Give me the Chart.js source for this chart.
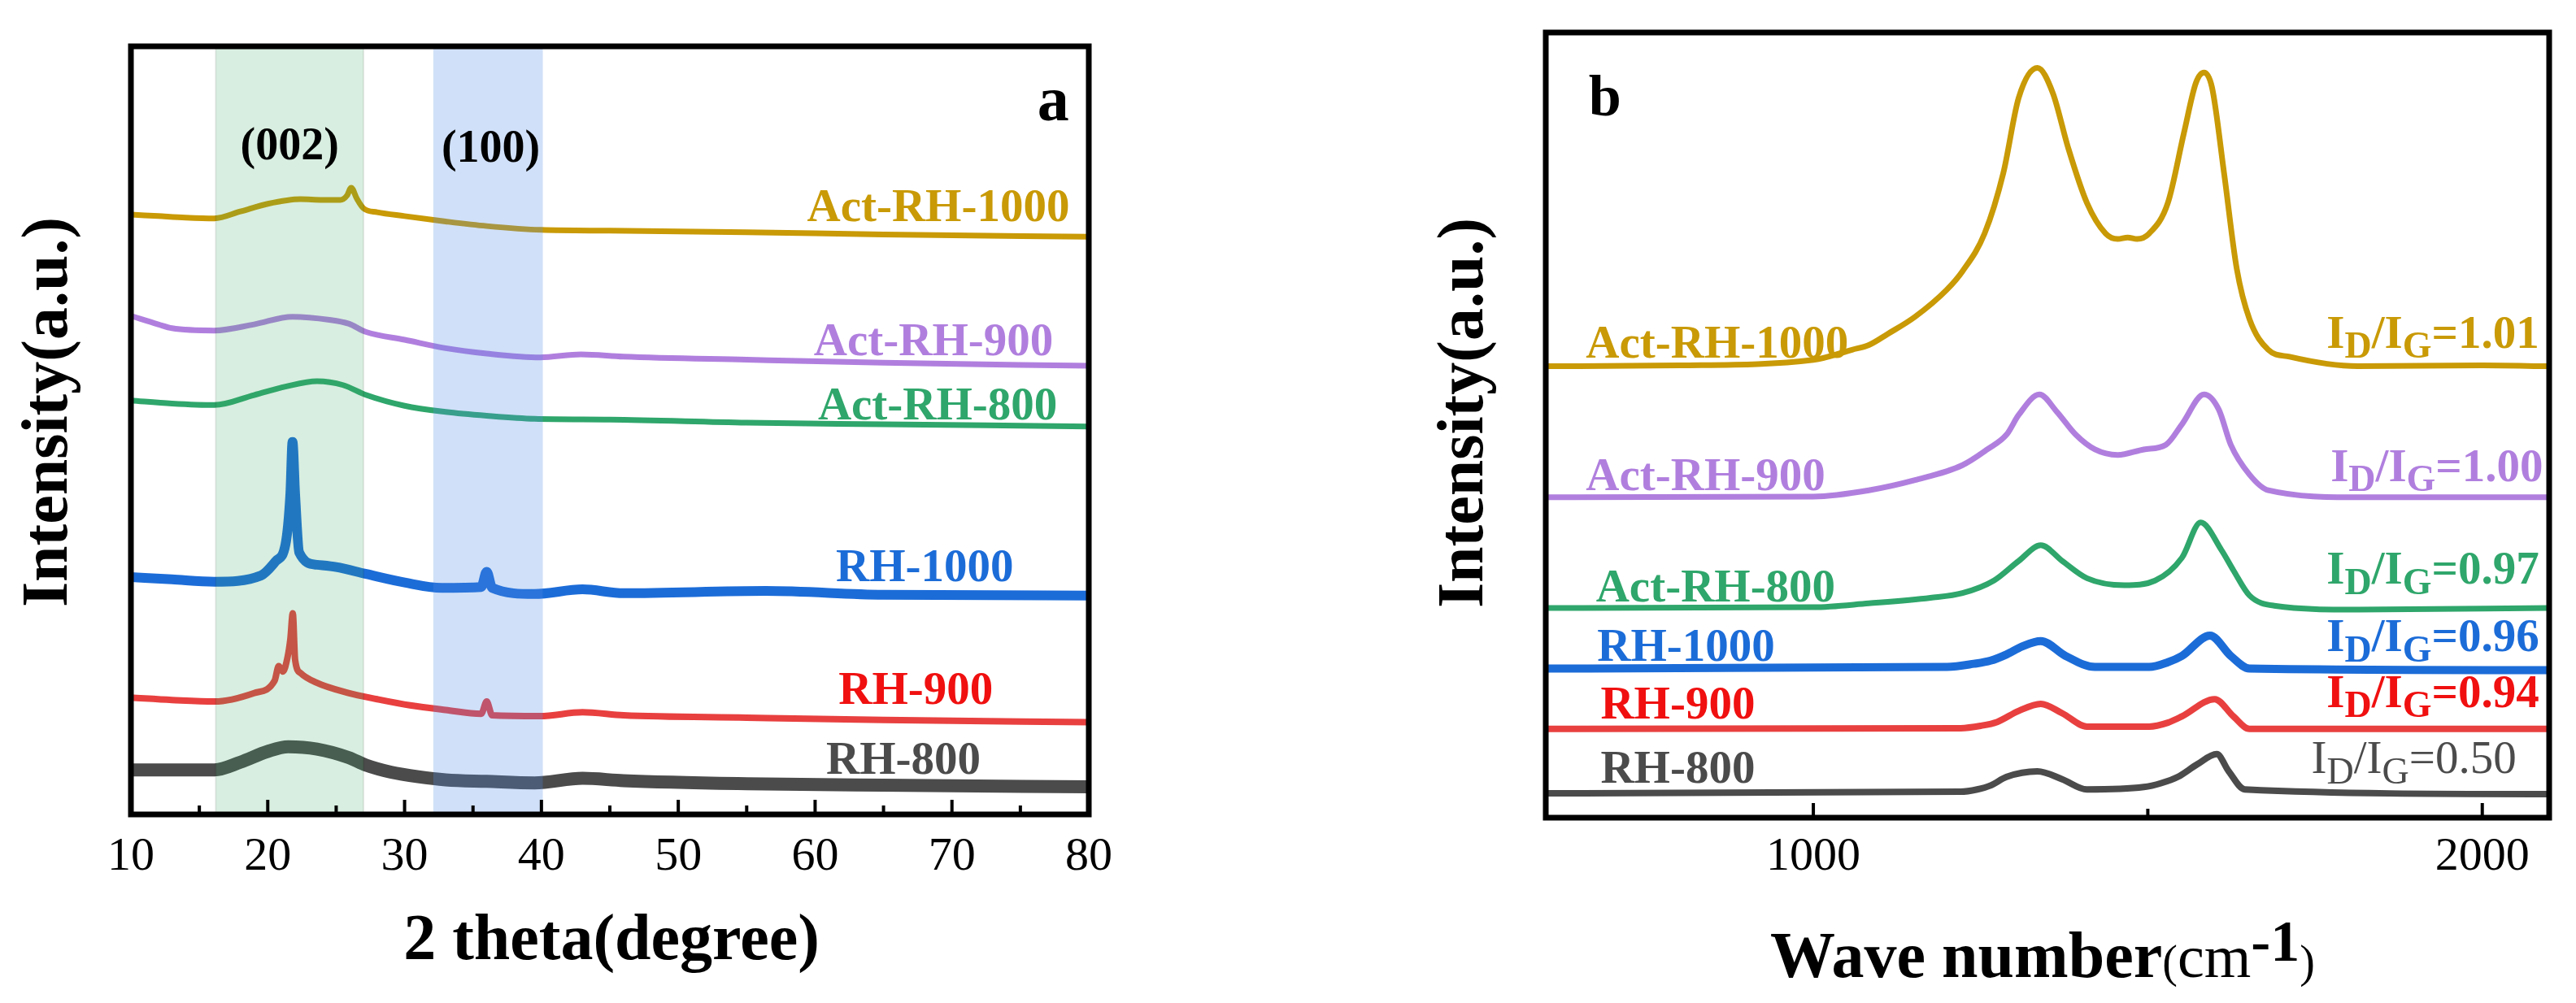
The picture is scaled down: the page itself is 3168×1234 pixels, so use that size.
<!DOCTYPE html>
<html>
<head>
<meta charset="utf-8">
<script src="https://cdn.jsdelivr.net/npm/chart.js@4.4.1/dist/chart.umd.min.js"></script>
<style>
  html, body { margin: 0; padding: 0; background: #fff; }
  #wrap { position: relative; width: 3168px; height: 1234px; overflow: hidden; }
  #xrd { position: absolute; left: 0; top: 0; }
  #raman { position: absolute; left: 1580px; top: 0; }
</style>
</head>
<body>
<div id="wrap">
  <canvas id="xrd" width="1580" height="1234"></canvas>
  <canvas id="raman" width="1588" height="1234"></canvas>
</div>
<script>
// ---- (a) XRD data: 2 theta (degree) vs stacked intensity (a.u.) ----
const xrdTicks = [10, 20, 30, 40, 50, 60, 70, 80];
const xrdMinorTicks = [15, 25, 35, 45, 55, 65, 75];

const xrdX_act1000 = [10, 12, 14, 16.1, 18, 20, 22.4, 24, 25.3, 25.8, 26.1, 26.5, 27, 28, 30, 33, 36, 40, 45, 55, 65, 80];
const xrdY_act1000 = [78.1, 77.9, 77.7, 77.6, 78.5, 79.5, 80.1, 80.0, 80.0, 80.6, 81.6, 80.2, 78.9, 78.4, 77.9, 77.2, 76.6, 76.1, 76.0, 75.8, 75.5, 75.2];

const xrdX_act900 = [10, 12, 13, 16.1, 19, 21.8, 24.5, 25.9, 27.2, 30, 33, 36, 39.9, 42.9, 46, 55, 65, 80];
const xrdY_act900 = [64.9, 63.8, 63.3, 63.0, 63.8, 64.8, 64.4, 63.9, 62.8, 61.8, 60.7, 60.0, 59.5, 59.9, 59.6, 59.2, 58.8, 58.4];

const xrdX_act800 = [10, 13, 16.1, 19, 21.3, 23.6, 25.5, 27.2, 30, 33, 36, 39.5, 45, 55, 65, 80];
const xrdY_act800 = [53.9, 53.5, 53.3, 54.6, 55.7, 56.4, 55.9, 54.6, 53.2, 52.4, 51.9, 51.5, 51.4, 51.0, 50.8, 50.5];

const xrdX_rh1000 = [10, 13, 16.1, 19.5, 20.6, 21.3, 21.65, 21.81, 22.0, 22.3, 23.6, 25, 27.2, 30, 32.7, 35.6, 36.0, 36.4, 39.5, 43, 46, 56.4, 65, 80];
const xrdY_rh1000 = [30.9, 30.6, 30.3, 31.1, 33.0, 35.2, 41.7, 48.5, 41.7, 34.1, 32.5, 32.2, 31.3, 30.2, 29.5, 29.6, 31.6, 29.5, 28.7, 29.3, 28.8, 29.1, 28.6, 28.5];

const xrdX_rh900 = [10, 13, 16.1, 19, 20.5, 20.8, 21.1, 21.45, 21.65, 21.83, 22.0, 22.4, 23.5, 25.9, 28, 30.4, 33, 35.6, 36.0, 36.4, 39.9, 43, 46, 55, 65, 80];
const xrdY_rh900 = [15.2, 14.9, 14.7, 15.8, 17.4, 19.3, 18.6, 20.5, 22.8, 26.2, 20.1, 18.4, 17.2, 15.8, 15.0, 14.2, 13.6, 13.1, 14.7, 12.9, 12.8, 13.3, 12.9, 12.6, 12.3, 12.0];

const xrdX_rh800 = [10, 13, 16.1, 18, 20, 21.5, 23.6, 25.9, 27.2, 29, 31, 33, 36, 39.5, 43, 46, 55, 65, 80];
const xrdY_rh800 = [5.8, 5.8, 5.8, 6.8, 8.2, 8.8, 8.5, 7.4, 6.4, 5.5, 4.9, 4.5, 4.3, 4.1, 4.7, 4.4, 4.0, 3.8, 3.6];

// shaded reflections (2 theta ranges) and their hkl labels
const xrdBands = [[16.2, 27.0], [32.1, 40.1]];
const xrdBandLabels = ['(002)', '(100)'];

// ---- (b) Raman data: wave number (cm-1) vs stacked intensity (a.u.) ----
const ramanTicks = [1000, 2000];
const ramanMinorTicks = [1500];

const ramanX_act1000 = [600, 800, 1000, 1058, 1083, 1111, 1152, 1199, 1223, 1256, 1284, 1307, 1335, 1358, 1381, 1409, 1437, 1455, 1470, 1484, 1502, 1530, 1554, 1572, 1584, 1596, 1614, 1633, 1652, 1680, 1712, 1814, 2000, 2100];
const ramanY_act1000 = [57.5, 57.6, 58.3, 59.6, 60.2, 61.6, 63.8, 67.2, 69.6, 74.4, 82.1, 91.7, 95.5, 92.3, 85.3, 78.3, 74.4, 73.7, 73.9, 73.7, 74.4, 78.3, 87.2, 93.6, 94.9, 93.0, 82.1, 69.9, 63.5, 59.6, 58.7, 57.5, 57.6, 57.5];

const ramanX_act900 = [600, 1000, 1083, 1152, 1223, 1260, 1289, 1307, 1338, 1364, 1392, 1421, 1455, 1494, 1527, 1551, 1584, 1606, 1624, 1652, 1680, 1814, 2100];
const ramanY_act900 = [40.8, 40.9, 41.7, 43.0, 44.9, 46.9, 48.8, 51.3, 53.9, 51.7, 48.8, 46.9, 46.2, 46.9, 47.5, 50.1, 53.9, 52.0, 47.5, 43.7, 41.7, 40.8, 40.8];

const ramanX_act800 = [600, 1000, 1083, 1175, 1223, 1270, 1307, 1340, 1372, 1409, 1465, 1511, 1551, 1579, 1610, 1628, 1652, 1689, 1814, 2100];
const ramanY_act800 = [26.7, 26.8, 27.3, 28.0, 28.6, 30.2, 32.7, 34.7, 32.7, 30.5, 29.6, 30.2, 33.1, 37.6, 34.1, 31.5, 28.3, 27.0, 26.5, 26.7];

const ramanX_rh1000 = [600, 1200, 1240, 1265, 1289, 1312, 1340, 1377, 1421, 1502, 1530, 1551, 1593, 1624, 1652, 2100];
const ramanY_rh1000 = [19.0, 19.2, 19.6, 20.0, 20.8, 21.8, 22.5, 20.6, 19.2, 19.2, 19.8, 20.6, 23.2, 20.6, 19.0, 18.8];

const ramanX_rh900 = [600, 1220, 1250, 1275, 1307, 1340, 1372, 1409, 1502, 1530, 1551, 1600, 1628, 1652, 2100];
const ramanY_rh900 = [11.3, 11.4, 11.7, 12.2, 13.6, 14.5, 13.3, 11.6, 11.6, 12.1, 12.9, 15.1, 12.9, 11.3, 11.3];

const ramanX_rh800 = [600, 1220, 1245, 1265, 1289, 1335, 1372, 1409, 1494, 1520, 1545, 1574, 1603, 1621, 1645, 2100];
const ramanY_rh800 = [3.1, 3.3, 3.6, 4.1, 5.2, 5.9, 4.9, 3.6, 3.9, 4.4, 5.2, 6.8, 8.1, 5.9, 3.6, 3.0];

const sampleNames = ['Act-RH-1000', 'Act-RH-900', 'Act-RH-800', 'RH-1000', 'RH-900', 'RH-800'];
const idigRatios = ['1.01', '1.00', '0.97', '0.96', '0.94', '0.50'];

// ---- styling ----
const serif = "'Liberation Serif', 'Times New Roman', serif";
const lineColors = ['#C99A06', '#B07FDE', '#2FA66B', '#1C6CD8', '#E8403F', '#4B4B4B'];
const labelColors = ['#C99A06', '#B07FDE', '#2FA66B', '#1C6CD8', '#F01010', '#4B4B4B'];

Chart.defaults.font.family = serif;
Chart.defaults.color = '#000';

function toPoints(xs, ys) {
  return xs.map((x, i) => ({ x: x, y: ys[i] }));
}

function makeDatasets(xsList, ysList, widths) {
  return xsList.map((xs, i) => ({
    label: sampleNames[i],
    data: toPoints(xs, ysList[i]),
    borderColor: lineColors[i],
    borderWidth: widths[i],
    pointRadius: 0,
    fill: false,
    cubicInterpolationMode: 'monotone'
  }));
}

function drawFrame(chart, major, minor) {
  const { ctx, chartArea: a, scales: { x } } = chart;
  ctx.save();
  ctx.strokeStyle = '#000';
  ctx.lineWidth = 4;
  major.forEach(v => {
    const px = x.getPixelForValue(v);
    ctx.beginPath(); ctx.moveTo(px, a.bottom); ctx.lineTo(px, a.bottom - 18); ctx.stroke();
  });
  minor.forEach(v => {
    const px = x.getPixelForValue(v);
    ctx.beginPath(); ctx.moveTo(px, a.bottom); ctx.lineTo(px, a.bottom - 11); ctx.stroke();
  });
  ctx.lineWidth = 7;
  ctx.strokeRect(a.left, a.top, a.right - a.left, a.bottom - a.top);
  ctx.restore();
}

function drawVerticalTitle(ctx, text, cx, cy) {
  ctx.save();
  ctx.translate(cx, cy);
  ctx.rotate(-Math.PI / 2);
  ctx.font = 'bold 80px ' + serif;
  ctx.fillStyle = '#000';
  ctx.textAlign = 'center';
  ctx.textBaseline = 'alphabetic';
  ctx.fillText(text, 0, 0);
  ctx.restore();
}

// ---- (a) XRD chart ----
const xrdLabelAnchors = [[78.6, 78.8], [77.4, 61.3], [77.7, 53.0], [74.5, 31.9], [73.0, 15.9], [72.1, 6.9]];
const xrdBandLabelAnchors = [[21.6, 86.8], [36.3, 86.5]];

const xrdDecor = {
  id: 'xrdDecor',
  afterDatasetsDraw(chart) {
    const { ctx, chartArea: a, scales: { x, y } } = chart;
    ctx.save();
    const bandFills = ['rgba(60,170,100,0.20)', 'rgba(80,140,230,0.27)'];
    xrdBands.forEach((b, i) => {
      const x0 = x.getPixelForValue(b[0]);
      const x1 = x.getPixelForValue(b[1]);
      ctx.fillStyle = bandFills[i];
      ctx.fillRect(x0, a.top, x1 - x0, a.bottom - a.top);
      if (i === 0) {
        ctx.strokeStyle = 'rgba(0,0,0,0.08)';
        ctx.lineWidth = 2;
        ctx.strokeRect(x0, a.top, x1 - x0, a.bottom - a.top);
      }
    });
    ctx.font = 'bold 56px ' + serif;
    ctx.fillStyle = '#000';
    ctx.textAlign = 'center';
    ctx.textBaseline = 'middle';
    xrdBandLabels.forEach((t, i) => {
      ctx.fillText(t, x.getPixelForValue(xrdBandLabelAnchors[i][0]), y.getPixelForValue(xrdBandLabelAnchors[i][1]));
    });
    ctx.font = 'bold 57px ' + serif;
    ctx.textAlign = 'right';
    sampleNames.forEach((n, i) => {
      ctx.fillStyle = labelColors[i];
      ctx.fillText(n, x.getPixelForValue(xrdLabelAnchors[i][0]), y.getPixelForValue(xrdLabelAnchors[i][1]));
    });
    ctx.fillStyle = '#000';
    ctx.font = 'bold 78px ' + serif;
    ctx.textAlign = 'center';
    ctx.textBaseline = 'alphabetic';
    ctx.fillText('a', x.getPixelForValue(77.4), y.getPixelForValue(90.4));
    ctx.restore();
  },
  afterDraw(chart) {
    const ctx = chart.ctx;
    drawFrame(chart, xrdTicks, xrdMinorTicks);
    drawVerticalTitle(ctx, 'Intensity(a.u.)', 82, 507);
    ctx.save();
    ctx.font = 'bold 80px ' + serif;
    ctx.fillStyle = '#000';
    ctx.textAlign = 'center';
    ctx.textBaseline = 'alphabetic';
    ctx.fillText('2 theta(degree)', 752, 1180);
    ctx.restore();
  }
};

new Chart(document.getElementById('xrd'), {
  type: 'line',
  data: {
    datasets: makeDatasets(
      [xrdX_act1000, xrdX_act900, xrdX_act800, xrdX_rh1000, xrdX_rh900, xrdX_rh800],
      [xrdY_act1000, xrdY_act900, xrdY_act800, xrdY_rh1000, xrdY_rh900, xrdY_rh800],
      [7, 7, 7, 12, 8, 16]
    )
  },
  options: {
    responsive: false,
    animation: false,
    devicePixelRatio: 1,
    layout: { padding: { left: 161, top: 57, right: 241, bottom: 0 } },
    plugins: { legend: { display: false }, tooltip: { enabled: false } },
    scales: {
      x: {
        type: 'linear', min: 10, max: 80,
        afterBuildTicks: s => { s.ticks = xrdTicks.map(v => ({ value: v })); },
        ticks: { font: { size: 58 }, color: '#000', padding: 18, callback: v => String(v) },
        grid: { display: false, drawTicks: false },
        border: { display: false },
        afterFit: s => { s.height = 232; }
      },
      y: { display: false, min: 0, max: 100 }
    }
  },
  plugins: [xrdDecor]
});

// ---- (b) Raman chart ----
const ramanNameAnchors = [[660, 60.1], [660, 43.2], [675, 29.1], [677, 21.5], [682, 14.2], [682, 6.0]];
const ramanRatioAnchors = [[2085, 61.4], [2091, 44.4], [2085, 31.3], [2085, 22.7], [2085, 15.6], [2051, 7.2]];

function drawRatio(ctx, ratio, xRight, yMid, color, weight) {
  const parts = [
    { t: 'I', size: 57, dy: 0 },
    { t: 'D', size: 46, dy: 15 },
    { t: '/I', size: 57, dy: 0 },
    { t: 'G', size: 46, dy: 15 },
    { t: '=' + ratio, size: 57, dy: 0 }
  ];
  let total = 0;
  parts.forEach(p => {
    ctx.font = weight + ' ' + p.size + 'px ' + serif;
    p.w = ctx.measureText(p.t).width;
    total += p.w;
  });
  let cx = xRight - total;
  ctx.fillStyle = color;
  ctx.textAlign = 'left';
  ctx.textBaseline = 'middle';
  parts.forEach(p => {
    ctx.font = weight + ' ' + p.size + 'px ' + serif;
    ctx.fillText(p.t, cx, yMid + p.dy);
    cx += p.w;
  });
}

const ramanDecor = {
  id: 'ramanDecor',
  afterDatasetsDraw(chart) {
    const { ctx, scales: { x, y } } = chart;
    ctx.save();
    ctx.font = 'bold 57px ' + serif;
    ctx.textAlign = 'left';
    ctx.textBaseline = 'middle';
    sampleNames.forEach((n, i) => {
      ctx.fillStyle = labelColors[i];
      ctx.fillText(n, x.getPixelForValue(ramanNameAnchors[i][0]), y.getPixelForValue(ramanNameAnchors[i][1]));
    });
    idigRatios.forEach((r, i) => {
      drawRatio(ctx, r, x.getPixelForValue(ramanRatioAnchors[i][0]), y.getPixelForValue(ramanRatioAnchors[i][1]),
        labelColors[i], i === 5 ? 'normal' : 'bold');
    });
    ctx.fillStyle = '#000';
    ctx.font = 'bold 72px ' + serif;
    ctx.textAlign = 'left';
    ctx.textBaseline = 'alphabetic';
    ctx.fillText('b', x.getPixelForValue(664), y.getPixelForValue(89.4));
    ctx.restore();
  },
  afterDraw(chart) {
    const ctx = chart.ctx;
    drawFrame(chart, ramanTicks, ramanMinorTicks);
    drawVerticalTitle(ctx, 'Intensity(a.u.)', 243, 508);
    // "Wave number(cm-1)" with a superscript
    const parts = [
      { t: 'Wave number', font: 'bold 80px ', dy: 0 },
      { t: '(', font: 'normal 56px ', dy: 0 },
      { t: 'cm', font: 'normal 74px ', dy: 0 },
      { t: '-1', font: 'bold 72px ', dy: -20 },
      { t: ')', font: 'normal 56px ', dy: 0 }
    ];
    ctx.save();
    ctx.fillStyle = '#000';
    ctx.textAlign = 'left';
    ctx.textBaseline = 'alphabetic';
    let cx = 597;
    parts.forEach(p => {
      ctx.font = p.font + serif;
      ctx.fillText(p.t, cx, 1202 + p.dy);
      cx += ctx.measureText(p.t).width;
    });
    ctx.restore();
  }
};

new Chart(document.getElementById('raman'), {
  type: 'line',
  data: {
    datasets: makeDatasets(
      [ramanX_act1000, ramanX_act900, ramanX_act800, ramanX_rh1000, ramanX_rh900, ramanX_rh800],
      [ramanY_act1000, ramanY_act900, ramanY_act800, ramanY_rh1000, ramanY_rh900, ramanY_rh800],
      [7, 7, 7, 10, 8, 8]
    )
  },
  options: {
    responsive: false,
    animation: false,
    devicePixelRatio: 1,
    layout: { padding: { left: 321, top: 40, right: 33, bottom: 0 } },
    plugins: { legend: { display: false }, tooltip: { enabled: false } },
    scales: {
      x: {
        type: 'linear', min: 600, max: 2100,
        afterBuildTicks: s => { s.ticks = ramanTicks.map(v => ({ value: v })); },
        ticks: { font: { size: 58 }, color: '#000', padding: 14, callback: v => String(v) },
        grid: { display: false, drawTicks: false },
        border: { display: false },
        afterFit: s => { s.height = 228; }
      },
      y: { display: false, min: 0, max: 100 }
    }
  },
  plugins: [ramanDecor]
});
</script>
</body>
</html>
